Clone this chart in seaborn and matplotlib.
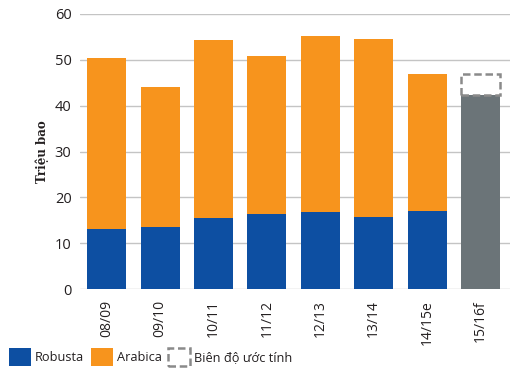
"""
Coffee production by crop year (Robusta / Arabica), million bags.
"""

import numpy as np
import pandas as pd
import matplotlib
matplotlib.use("Agg")
import matplotlib.pyplot as plt
import seaborn as sns
from matplotlib.patches import Patch

# Data
SEASONS = ["08/09", "09/10", "10/11", "11/12", "12/13", "13/14", "14/15e", "15/16f"]
TOTAL = [50.4, 44.1, 54.3, 50.8, 55.2, 54.5, 46.9, 42.3]
ROBUSTA = [13.1, 13.5, 15.5, 16.4, 16.8, 15.7, 17.0, 0.0]
RANGE_LOW = [np.nan] * 7 + [42.3]
RANGE_HIGH = [np.nan] * 7 + [46.9]
Y_TICKS = [0, 10, 20, 30, 40, 50, 60]

# Colours
BLUE = "#0D4FA2"
ORANGE = "#F7941D"
GRAY = "#6B7478"
DASH_GRAY = "#8A8A8A"
GRID = "#C4C4C4"
TEXT = "#231F20"

sns.set_style("white")
plt.rcParams["font.family"] = ["Open Sans", "DejaVu Sans"]

df = pd.DataFrame(
    {"season": SEASONS, "total": TOTAL, "robusta": ROBUSTA,
     "low": RANGE_LOW, "high": RANGE_HIGH}
)

fig = plt.figure(figsize=(5.22, 3.76), dpi=100)
ax = fig.add_axes([0.153, 0.231, 0.824, 0.732])

bar_w = 0.73
total_colors = [ORANGE] * 7 + [GRAY]
sns.barplot(data=df, x="season", y="total", hue="season", palette=total_colors,
            legend=False, width=bar_w, saturation=1, linewidth=0, ax=ax, zorder=3)
sns.barplot(data=df, x="season", y="robusta", color=BLUE, width=bar_w,
            saturation=1, linewidth=0, ax=ax, zorder=4)

# Estimate range box (dashed)
idx = np.arange(len(SEASONS))
ax.bar(idx, df["high"] - df["low"], bottom=df["low"], width=bar_w,
       fill=False, edgecolor=DASH_GRAY, linestyle=(0, (3, 1.5)),
       linewidth=1.8, zorder=5)

ax.set_ylim(0, 60)
ax.set_xlim(-0.5, len(SEASONS) - 0.5 + 0.05)
ax.set_yticks(Y_TICKS)
ax.yaxis.grid(True, color=GRID, linewidth=1.0, zorder=0)
ax.set_axisbelow(True)
for s in ax.spines.values():
    s.set_visible(False)

ax.tick_params(axis="y", length=0, pad=6, labelsize=10.5, labelcolor=TEXT)
ax.tick_params(axis="x", length=0, pad=8, labelsize=10, labelcolor=TEXT)
plt.setp(ax.get_xticklabels(), rotation=90)
ax.set_xlabel("")
ax.set_ylabel("Triệu bao", family="DejaVu Serif", fontweight="bold",
              fontsize=8.5, color=TEXT, labelpad=4)

handles = [
    Patch(facecolor=BLUE, edgecolor="none", label="Robusta"),
    Patch(facecolor=ORANGE, edgecolor="none", label="Arabica"),
    Patch(facecolor="none", edgecolor=DASH_GRAY, linestyle=(0, (3, 1.5)),
          linewidth=1.8, label="Biên độ ước tính"),
]
fig.legend(handles=handles, loc="center left", bbox_to_anchor=(-0.005, 0.05),
           ncol=3, frameon=False, fontsize=9.2, handlelength=1.75,
           handleheight=1.75, handletextpad=0.3, columnspacing=0.5,
           labelcolor=TEXT)

plt.savefig("out.png", dpi=100)
